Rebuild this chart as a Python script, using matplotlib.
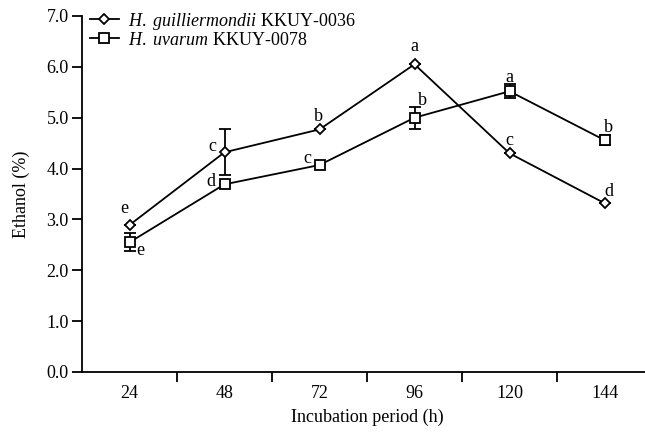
import matplotlib
matplotlib.use("Agg")
import matplotlib.pyplot as plt
import numpy as np

plt.rcParams['font.family'] = 'serif'
plt.rcParams['font.serif'] = ['Liberation Serif', 'DejaVu Serif']
plt.rcParams['mathtext.fontset'] = 'custom'
plt.rcParams['mathtext.rm'] = 'serif'
plt.rcParams['mathtext.it'] = 'serif:italic'

categories = ['24', '48', '72', '96', '120', '144']
guill = [2.89, 4.32, 4.77, 6.05, 4.30, 3.32]
guill_err = [0.0, 0.45, 0.0, 0.0, 0.0, 0.0]
guill_letters = ['e', 'c', 'b', 'a', 'c', 'd']
uvarum = [2.55, 3.69, 4.07, 5.00, 5.52, 4.56]
uvarum_err = [0.18, 0.0, 0.0, 0.22, 0.14, 0.10]
uvarum_letters = ['e', 'd', 'c', 'b', 'a', 'b']

yticks = [0.0, 1.0, 2.0, 3.0, 4.0, 5.0, 6.0, 7.0]

FS = 13

fig = plt.figure(figsize=(6.45, 4.32), dpi=100)
ax = fig.add_axes([82/645, 60/432, 570/645, 356/432])

x = np.arange(1, len(categories) + 1)

ax.errorbar(x, guill, yerr=guill_err, fmt='none', ecolor='black',
            elinewidth=1.3, capsize=4, capthick=1.3, zorder=2)
ax.errorbar(x, uvarum, yerr=uvarum_err, fmt='none', ecolor='black',
            elinewidth=1.3, capsize=4, capthick=1.3, zorder=2)

ax.plot(x, guill, color='black', lw=1.3, marker='D', markersize=5.5,
        markerfacecolor='white', markeredgecolor='black', markeredgewidth=1.3,
        label=r'$\mathit{H.\ guilliermondii}$ KKUY-0036', zorder=3)
ax.plot(x, uvarum, color='black', lw=1.3, marker='s', markersize=7.5,
        markerfacecolor='white', markeredgecolor='black', markeredgewidth=1.3,
        label=r'$\mathit{H.\ uvarum}$ KKUY-0078', zorder=3)

g_off = [(-5, 17), (-12, 6), (-1, 13), (0, 18), (0, 13), (4, 12)]
u_off = [(11, -8), (-14, 3), (-12, 7), (8, 17), (0, 14), (4, 13)]
for i in range(len(categories)):
    ax.annotate(guill_letters[i], (x[i], guill[i]), xytext=g_off[i],
                textcoords='offset pixels', ha='center', va='center', fontsize=FS)
    ax.annotate(uvarum_letters[i], (x[i], uvarum[i]), xytext=u_off[i],
                textcoords='offset pixels', ha='center', va='center', fontsize=FS)

ax.set_xlim(0.5, len(categories) + 0.5)
ax.set_ylim(0, 7.0)
ax.set_xticks(x)
ax.set_xticklabels(categories, fontsize=FS)
ax.set_xticks(np.arange(1.5, len(categories), 1.0), minor=True)
ax.tick_params(axis='x', which='major', length=0, pad=9)
ax.tick_params(axis='x', which='minor', length=7, width=1.3, direction='out')
ax.set_yticks(yticks)
ax.set_yticklabels([f'{v:.1f}' for v in yticks], fontsize=FS)
ax.tick_params(axis='y', length=7, width=1.3, direction='out', pad=2.5)

for s in ['top', 'right']:
    ax.spines[s].set_visible(False)
for s in ['left', 'bottom']:
    ax.spines[s].set_linewidth(1.3)

ax.set_xlabel('Incubation period (h)', fontsize=FS, labelpad=5)
ax.set_ylabel('Ethanol (%)', fontsize=FS, labelpad=12)

ax.legend(loc='upper left', bbox_to_anchor=(-0.002, 1.04), frameon=False,
          fontsize=FS, handlelength=1.6, handletextpad=0.5, labelspacing=0.0,
          borderaxespad=0.3, borderpad=0.2)

fig.savefig('out.png', dpi=100)
